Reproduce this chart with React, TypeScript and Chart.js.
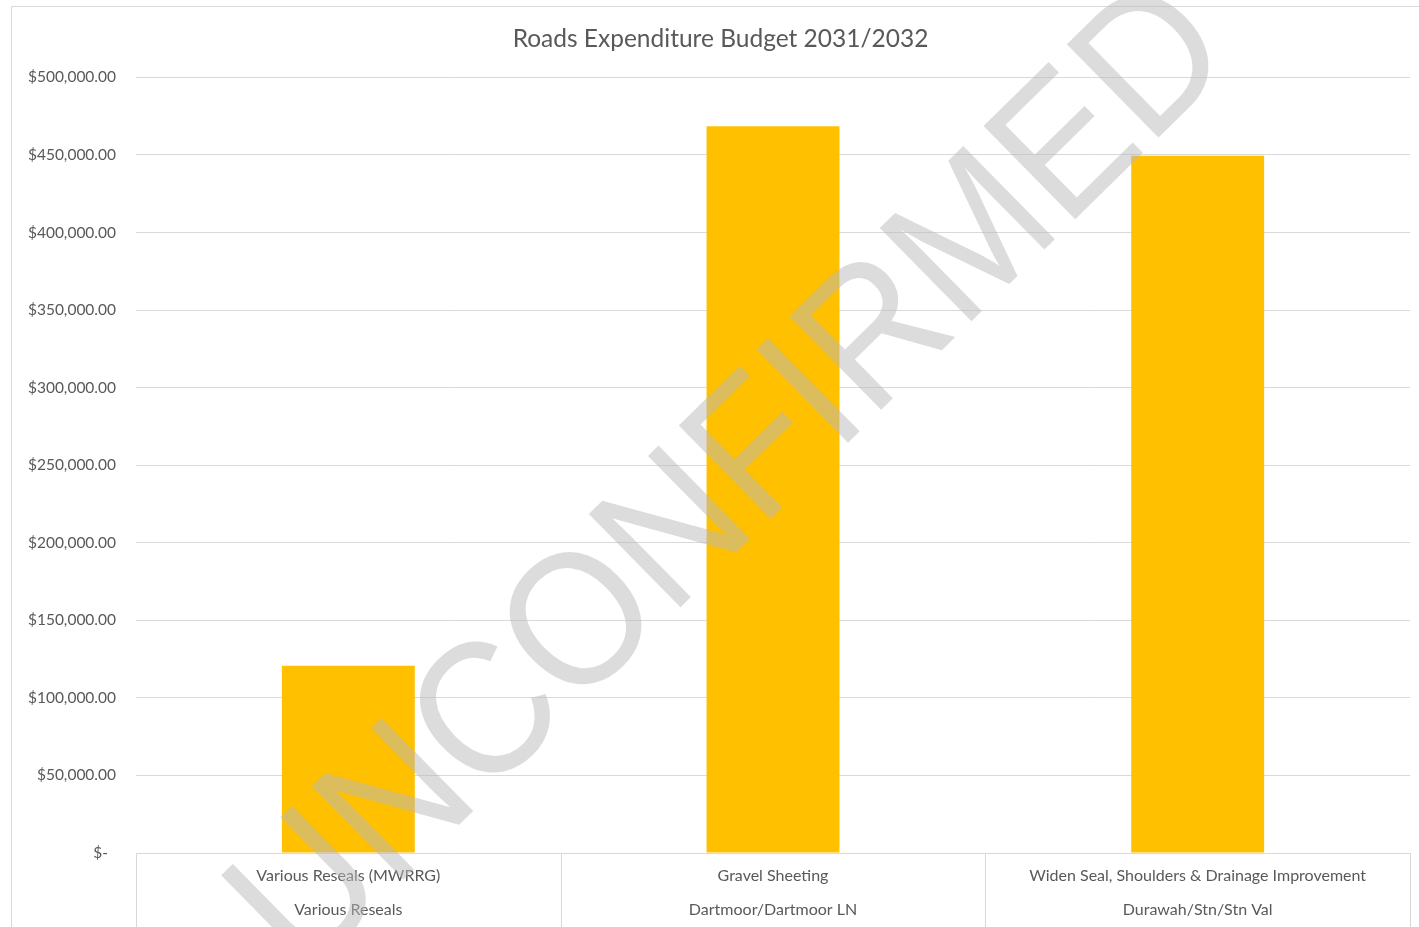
import React, { useEffect, useRef } from "react";
import { Chart, registerables } from "chart.js";

Chart.register(...registerables);

const TITLE = "Roads Expenditure Budget 2031/2032";
const CATEGORY_LINE1 = [
  "Various Reseals (MWRRG)",
  "Gravel Sheeting",
  "Widen Seal, Shoulders & Drainage Improvement",
];
const CATEGORY_LINE2 = ["Various Reseals", "Dartmoor/Dartmoor LN", "Durawah/Stn/Stn Val"];
const BUDGET_VALUES = [120700, 468500, 449500];
const Y_MIN = 0;
const Y_MAX = 500000;
const Y_STEP = 50000;
const WATERMARK = "UNCONFIRMED";

const TEXT_COLOR = "#595959";
const GRID_COLOR = "#d9d9d9";
const BAR_COLOR = "#FFC000";
const FONT = "Lato, 'Open Sans', sans-serif";

const formatMoney = (v: number) =>
  v === 0
    ? "$-  "
    : "$" + v.toLocaleString("en-US", { minimumFractionDigits: 2, maximumFractionDigits: 2 });

const framePlugin = {
  id: "frame",
  beforeDraw(chart: any) {
    const ctx = chart.ctx;
    ctx.save();
    ctx.fillStyle = "#ffffff";
    ctx.fillRect(0, 0, chart.width, chart.height);
    ctx.strokeStyle = GRID_COLOR;
    ctx.lineWidth = 1;
    ctx.strokeRect(11.5, 6.5, chart.width + 50, chart.height + 50);
    ctx.restore();
  },
};

// Category separators below the x axis, taken from the x scale's own bounds
const categoryTablePlugin = {
  id: "categoryTable",
  afterDatasetsDraw(chart: any) {
    const xs = chart.scales.x;
    const n = chart.data.labels.length;
    const ctx = chart.ctx;
    ctx.save();
    ctx.strokeStyle = GRID_COLOR;
    ctx.lineWidth = 1;
    for (let i = 0; i <= n; i++) {
      const x = Math.round(xs.left + (i * (xs.right - xs.left)) / n) + 0.5;
      ctx.beginPath();
      ctx.moveTo(x, xs.top);
      ctx.lineTo(x, chart.height);
      ctx.stroke();
    }
    ctx.restore();
  },
};

const watermarkPlugin = {
  id: "watermark",
  afterDraw(chart: any) {
    const ctx = chart.ctx;
    ctx.save();
    ctx.translate(723, 470);
    ctx.rotate((-44.5 * Math.PI) / 180);
    ctx.scale(0.92, 1);
    const size = 190;
    ctx.font = `${size}px 'Liberation Sans', Arial, sans-serif`;
    ctx.fillStyle = "rgba(185,185,185,0.5)";
    ctx.textAlign = "center";
    ctx.textBaseline = "alphabetic";
    ctx.fillText(WATERMARK, 0, size * 0.716 * 0.5);
    ctx.restore();
  },
};

export default function App() {
  const canvasRef = useRef<HTMLCanvasElement | null>(null);

  useEffect(() => {
    if (!canvasRef.current) return;
    const labels = CATEGORY_LINE1.map((l, i) => [l, CATEGORY_LINE2[i]]);
    const chart = new Chart(canvasRef.current, {
      type: "bar",
      data: {
        labels,
        datasets: [
          {
            label: "Budget",
            data: BUDGET_VALUES,
            backgroundColor: BAR_COLOR,
            borderWidth: 0,
            barPercentage: 0.313,
            categoryPercentage: 1,
            yAxisID: "y",
          },
        ],
      },
      options: {
        responsive: false,
        animation: false,
        layout: { padding: { left: 22, right: 0, top: 0, bottom: -6 } },
        plugins: {
          legend: { display: false },
          tooltip: { enabled: false },
          title: {
            display: true,
            text: TITLE,
            color: TEXT_COLOR,
            font: { family: FONT, size: 24.5, weight: "normal" },
            padding: { top: 24, bottom: 24 },
          },
        },
        scales: {
          x: {
            grid: { drawOnChartArea: false, drawTicks: false, color: GRID_COLOR },
            border: { display: true, color: GRID_COLOR },
            ticks: {
              color: TEXT_COLOR,
              font: { family: FONT, size: 16, lineHeight: 34 / 16 },
              padding: 6,
              maxRotation: 0,
              autoSkip: false,
            },
          },
          y: {
            min: Y_MIN,
            max: Y_MAX,
            afterFit(scale: any) {
              scale.width = 114;
            },
            grid: { color: GRID_COLOR, drawTicks: false },
            border: { display: false },
            ticks: {
              stepSize: Y_STEP,
              color: TEXT_COLOR,
              font: { family: FONT, size: 15.5 },
              padding: 20,
              callback: (v: any) => formatMoney(Number(v)),
            },
          },
          yRight: {
            position: "right",
            afterFit(scale: any) {
              scale.width = 9;
            },
            grid: { display: false },
            border: { display: false },
            ticks: { display: false },
          },
        },
      },
      plugins: [framePlugin, categoryTablePlugin, watermarkPlugin],
    });
    return () => chart.destroy();
  }, []);

  return (
    <div style={{ position: "absolute", left: 0, top: 0, width: 1419, height: 927, overflow: "hidden" }}>
      <canvas ref={canvasRef} width={1419} height={927} style={{ display: "block" }} />
    </div>
  );
}
